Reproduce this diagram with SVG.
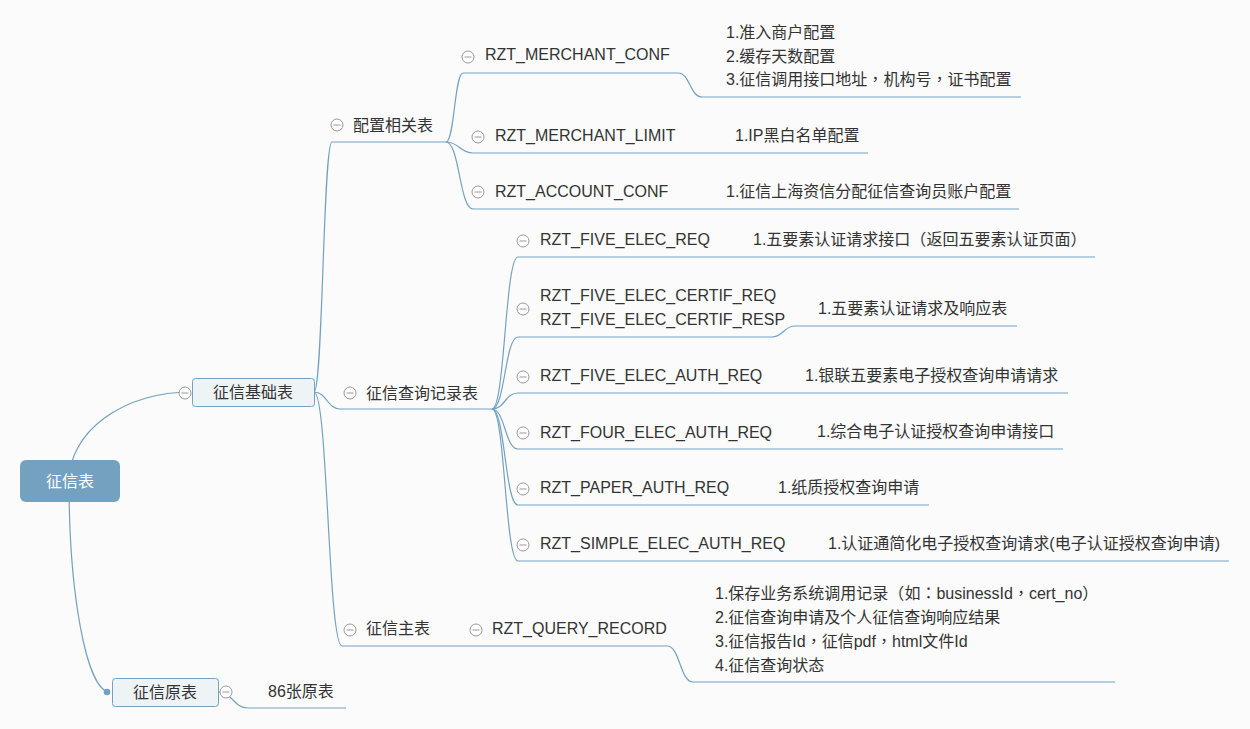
<svg xmlns="http://www.w3.org/2000/svg" width="1250" height="729" viewBox="0 0 1250 729">
<defs>
<style>
.bg{fill:#fbfbfb}
.c{fill:none;stroke:#73a1bf;stroke-width:1.2}
.t{font-family:"Liberation Sans","Noto Sans CJK SC",sans-serif;font-size:16px;fill:#333}
.tw{font-family:"Liberation Sans","Noto Sans CJK SC",sans-serif;font-size:16px;fill:#ffffff}
.p{font-family:"Noto Sans CJK TC",sans-serif}
.root{fill:#73a1bf}
.main{fill:#eef3f6;stroke:#73a1bf;stroke-width:1}
.exp{fill:#ffffff;stroke:#999999;stroke-width:1}
.expl{stroke:#999999;stroke-width:1}
.dot{fill:#73a1bf}
</style>
<g id="expander">
<circle class="exp" cx="0" cy="0" r="6"/>
<line class="expl" x1="-3.5" y1="0" x2="3.5" y2="0"/>
</g>
</defs>
<rect class="bg" x="0" y="0" width="1250" height="729"/>

<g id="connectors">
<path class="c" d="M69,481 A121,89 0 0 1 190,392"/>
<path class="c" d="M69,481 A41,211 0 0 0 108,692"/>
<circle class="dot" cx="107" cy="692" r="3.3"/>
<path class="c" d="M314,392 C323,392 323,142 332,142 L446,142"/>
<path class="c" d="M314,392 C327,392 327,409 340,409 L492,409"/>
<path class="c" d="M314,392 C328,392 328,646 342,646 L437,646"/>
<path class="c" d="M437,646 L667,646"/>
<path class="c" d="M667,646 C680,646 680,682 693,682 L1115,682"/>
<path class="c" d="M218,692 C233,692 233,708 248,708 L346,708"/>
<path class="c" d="M446,142 C454.5,142 454.5,73 463,73 L678,73"/>
<path class="c" d="M678,73 C690,73 690,97 702,97 L1021,97"/>
<path class="c" d="M446,142 C459.5,142 459.5,153 473,153 L685,153"/>
<path class="c" d="M685,153 L868,153"/>
<path class="c" d="M446,142 C459.5,142 459.5,209 473,209 L680,209"/>
<path class="c" d="M680,209 L1019,209"/>
<path class="c" d="M492,409 C505,409 505,257 518,257 L720,257"/>
<path class="c" d="M720,257 L1095,257"/>
<path class="c" d="M492,409 C505,409 505,337 518,337 L772,337"/>
<path class="c" d="M772,337 C783.5,337 783.5,326 795,326 L1017,326"/>
<path class="c" d="M492,409 C505,409 505,393 518,393 L770,393"/>
<path class="c" d="M770,393 L1068,393"/>
<path class="c" d="M492,409 C505,409 505,449 518,449 L780,449"/>
<path class="c" d="M780,449 L1063,449"/>
<path class="c" d="M492,409 C505,409 505,505 518,505 L740,505"/>
<path class="c" d="M740,505 L929,505"/>
<path class="c" d="M492,409 C505,409 505,561 518,561 L795,561"/>
<path class="c" d="M795,561 L1229,561"/>
</g>

<g id="node-root">
<rect class="root" x="20" y="460" width="100" height="42" rx="6"/>
<text class="tw" x="70" y="487" text-anchor="middle">征信表</text>
</g>

<g id="node-jichu">
<rect class="main" x="192.5" y="378.5" width="122" height="28" rx="3"/>
<text class="t" x="253" y="398" text-anchor="middle">征信基础表</text>
<use href="#expander" x="185" y="393"/>
</g>

<g id="node-yuanbiao">
<rect class="main" x="112.5" y="678.5" width="106" height="28" rx="3"/>
<text class="t" x="165" y="698" text-anchor="middle">征信原表</text>
<use href="#expander" x="226" y="692"/>
</g>

<g id="node-86">
<text class="t" x="268" y="697">86张原表</text>
</g>

<g id="node-peizhi">
<use href="#expander" x="337" y="125"/>
<text class="t" x="353" y="131">配置相关表</text>
</g>

<g id="node-merchant-conf">
<use href="#expander" x="468" y="57"/>
<text class="t" x="485" y="60">RZT_MERCHANT_CONF</text>
</g>
<g id="node-merchant-conf-desc">
<text class="t" x="726" y="37.5">1.准入商户配置</text>
<text class="t" x="726" y="61.5">2.缓存天数配置</text>
<text class="t" x="726" y="85">3.征信调用接口地址<tspan class="p">，</tspan>机构号<tspan class="p">，</tspan>证书配置</text>
</g>

<g id="node-merchant-limit">
<use href="#expander" x="478" y="137"/>
<text class="t" x="495" y="141">RZT_MERCHANT_LIMIT</text>
</g>
<g id="node-merchant-limit-desc">
<text class="t" x="735" y="141">1.IP黑白名单配置</text>
</g>

<g id="node-account-conf">
<use href="#expander" x="478" y="192"/>
<text class="t" x="495" y="197">RZT_ACCOUNT_CONF</text>
</g>
<g id="node-account-conf-desc">
<text class="t" x="726" y="197">1.征信上海资信分配征信查询员账户配置</text>
</g>

<g id="node-chaxun">
<use href="#expander" x="350" y="393"/>
<text class="t" x="366" y="398.5">征信查询记录表</text>
</g>

<g id="node-five-elec-req">
<use href="#expander" x="523" y="241"/>
<text class="t" x="540" y="245">RZT_FIVE_ELEC_REQ</text>
</g>
<g id="node-five-elec-req-desc">
<text class="t" x="753" y="245">1.五要素认证请求接口<tspan class="p">（</tspan>返回五要素认证页面<tspan class="p">）</tspan></text>
</g>

<g id="node-certif">
<use href="#expander" x="523" y="309"/>
<text class="t" x="540" y="301">RZT_FIVE_ELEC_CERTIF_REQ</text>
<text class="t" x="540" y="325">RZT_FIVE_ELEC_CERTIF_RESP</text>
</g>
<g id="node-certif-desc">
<text class="t" x="818" y="313.5">1.五要素认证请求及响应表</text>
</g>

<g id="node-five-auth">
<use href="#expander" x="523" y="377"/>
<text class="t" x="540" y="381">RZT_FIVE_ELEC_AUTH_REQ</text>
</g>
<g id="node-five-auth-desc">
<text class="t" x="805" y="381">1.银联五要素电子授权查询申请请求</text>
</g>

<g id="node-four-auth">
<use href="#expander" x="523" y="433"/>
<text class="t" x="540" y="438">RZT_FOUR_ELEC_AUTH_REQ</text>
</g>
<g id="node-four-auth-desc">
<text class="t" x="817" y="437">1.综合电子认证授权查询申请接口</text>
</g>

<g id="node-paper-auth">
<use href="#expander" x="523" y="489"/>
<text class="t" x="540" y="493">RZT_PAPER_AUTH_REQ</text>
</g>
<g id="node-paper-auth-desc">
<text class="t" x="778" y="493">1.纸质授权查询申请</text>
</g>

<g id="node-simple-auth">
<use href="#expander" x="523" y="545"/>
<text class="t" x="540" y="549">RZT_SIMPLE_ELEC_AUTH_REQ</text>
</g>
<g id="node-simple-auth-desc">
<text class="t" x="828" y="549">1.认证通简化电子授权查询请求(电子认证授权查询申请)</text>
</g>

<g id="node-zhubiao">
<use href="#expander" x="350" y="630"/>
<text class="t" x="366" y="634">征信主表</text>
</g>

<g id="node-query-record">
<use href="#expander" x="476" y="630"/>
<text class="t" x="492" y="634">RZT_QUERY_RECORD</text>
</g>
<g id="node-query-record-desc">
<text class="t" x="715" y="598.5">1.保存业务系统调用记录<tspan class="p">（</tspan>如<tspan class="p">：</tspan>businessId<tspan class="p">，</tspan>cert_no<tspan class="p">）</tspan></text>
<text class="t" x="715" y="622.5">2.征信查询申请及个人征信查询响应结果</text>
<text class="t" x="715" y="646.5">3.征信报告Id<tspan class="p">，</tspan>征信pdf<tspan class="p">，</tspan>html文件Id</text>
<text class="t" x="715" y="671">4.征信查询状态</text>
</g>
</svg>
